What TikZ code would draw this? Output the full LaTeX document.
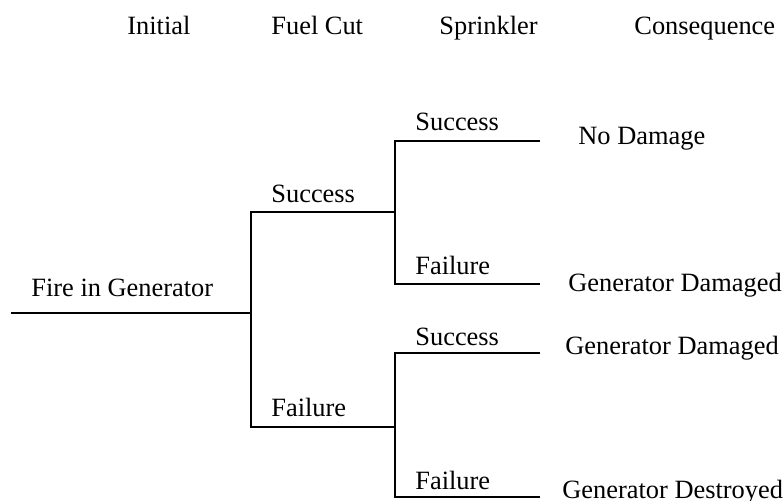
\documentclass[tikz,border=0pt]{standalone}
\usepackage{fontspec}
\setmainfont{Liberation Serif}
\begin{document}
\begin{tikzpicture}[x=0.5pt, y=-0.5pt,
  branch/.style={line width=1pt, line join=miter},
  lbl/.style={anchor=base west, inner sep=0pt, font=\fontsize{13.2}{15}\selectfont}]
\useasboundingbox (0,0) rectangle (784,501);

% column headings
\node[lbl] (hInit)  at (127,35) {Initial};
\node[lbl] (hFuel)  at (271,35) {Fuel Cut};
\node[lbl] (hSpr)   at (439,35) {Sprinkler};
\node[lbl] (hCons)  at (634,35) {Consequence};

% tree junctions and branch ends
\coordinate (start) at (11,313);
\coordinate (j0)    at (251,313);
\coordinate (fcS)   at (251,212);
\coordinate (fcF)   at (251,427);
\coordinate (j1)    at (395,212);
\coordinate (j2)    at (395,427);
\coordinate (s1S)   at (395,141);
\coordinate (s1F)   at (395,284);
\coordinate (s2S)   at (395,353);
\coordinate (s2F)   at (395,497);
\coordinate (e1)    at (540,141);
\coordinate (e2)    at (540,284);
\coordinate (e3)    at (540,353);
\coordinate (e4)    at (540,497);

% branches
\draw[branch] (start) -- (j0);
\draw[branch] (j1) -- (fcS) -- (fcF) -- (j2);
\draw[branch] (e1) -- (s1S) -- (s1F) -- (e2);
\draw[branch] (e3) -- (s2S) -- (s2F) -- (e4);

% branch labels
\node[lbl] (init)  at (31,297)  {Fire in Generator};
\node[lbl] (fcSl)  at (271,203) {Success};
\node[lbl] (fcFl)  at (271,417) {Failure};
\node[lbl] (s1Sl)  at (415,131) {Success};
\node[lbl] (s1Fl)  at (415,275) {Failure};
\node[lbl] (s2Sl)  at (415,346) {Success};
\node[lbl] (s2Fl)  at (415,490) {Failure};

% consequences
\node[lbl] (c1) at (578,145) {No Damage};
\node[lbl] (c2) at (568,292) {Generator Damaged};
\node[lbl] (c3) at (565,355) {Generator Damaged};
\node[lbl] (c4) at (562,499) {Generator Destroyed};
\end{tikzpicture}
\end{document}
